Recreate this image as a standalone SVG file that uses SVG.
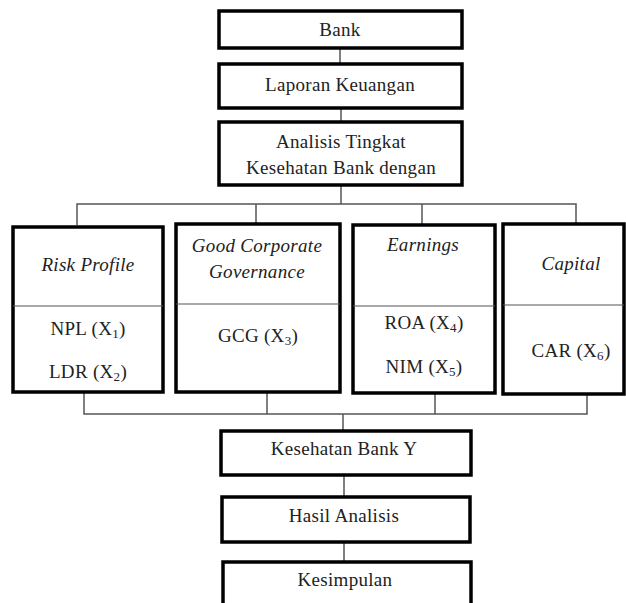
<svg xmlns="http://www.w3.org/2000/svg" width="626" height="603" viewBox="0 0 626 603">
<style>
.box{fill:#fff;stroke:#000;stroke-width:3.5}
.div{stroke:#555;stroke-width:1.2;fill:none}
.con{stroke:#555;stroke-width:1.5;fill:none}
text{font-family:'Liberation Serif','DejaVu Serif',serif;font-size:19px;fill:#222;text-anchor:middle;letter-spacing:0.3px}
.it{font-style:italic}
.sub{font-size:13px}
</style>
<rect width="626" height="603" fill="#fff"/>
<g id="connectors">
<line class="con" x1="340" y1="48" x2="340" y2="64"/>
<line class="con" x1="341" y1="108" x2="341" y2="122"/>
<polyline class="con" points="341,185 341,204"/>
<polyline class="con" points="77,225 77,204 576,204 576,224"/>
<line class="con" x1="256" y1="204" x2="256" y2="224"/>
<line class="con" x1="422" y1="204" x2="422" y2="225"/>
<polyline class="con" points="84,392 84,414 587,414 587,394"/>
<line class="con" x1="267" y1="392" x2="267" y2="414"/>
<line class="con" x1="435" y1="393" x2="435" y2="414"/>
<line class="con" x1="343" y1="414" x2="343" y2="431"/>
<line class="con" x1="344" y1="475" x2="344" y2="497"/>
<line class="con" x1="344" y1="542" x2="344" y2="562"/>
</g>
<g font-family="Liberation Serif, serif">
<g id="bank"><rect class="box" x="219" y="11" width="243" height="37"/><text x="340" y="36">Bank</text></g>
<g id="laporan"><rect class="box" x="219" y="64" width="243" height="44"/><text x="340" y="91">Laporan Keuangan</text></g>
<g id="analisis"><rect class="box" x="219" y="122" width="243" height="63"/><text x="341" y="148">Analisis Tingkat</text><text x="341" y="174">Kesehatan Bank dengan</text></g>
<g id="risk"><rect class="box" x="13" y="227" width="150" height="165"/><line class="div" x1="13" y1="306" x2="163" y2="306"/>
<text class="it" x="88" y="271">Risk Profile</text>
<text x="88" y="335">NPL (X<tspan class="sub" dy="3">1</tspan><tspan dy="-3">)</tspan></text>
<text x="88" y="378">LDR (X<tspan class="sub" dy="3">2</tspan><tspan dy="-3">)</tspan></text></g>
<g id="gcg"><rect class="box" x="176" y="224" width="164" height="168"/><line class="div" x1="176" y1="304" x2="340" y2="304"/>
<text class="it" x="257" y="252">Good Corporate</text>
<text class="it" x="257" y="278">Governance</text>
<text x="258" y="342">GCG (X<tspan class="sub" dy="3">3</tspan><tspan dy="-3">)</tspan></text></g>
<g id="earnings"><rect class="box" x="353" y="225" width="142" height="168"/><line class="div" x1="353" y1="306" x2="495" y2="306"/>
<text class="it" x="423" y="251">Earnings</text>
<text x="424" y="329">ROA (X<tspan class="sub" dy="3">4</tspan><tspan dy="-3">)</tspan></text>
<text x="424" y="373">NIM (X<tspan class="sub" dy="3">5</tspan><tspan dy="-3">)</tspan></text></g>
<g id="capital"><rect class="box" x="503" y="224" width="121" height="170"/><line class="div" x1="503" y1="305" x2="624" y2="305"/>
<text class="it" x="571" y="270">Capital</text>
<text x="571" y="357">CAR (X<tspan class="sub" dy="3">6</tspan><tspan dy="-3">)</tspan></text></g>
<g id="kesehatan"><rect class="box" x="221" y="431" width="250" height="44"/><text x="344" y="455">Kesehatan Bank Y</text></g>
<g id="hasil"><rect class="box" x="222" y="497" width="248" height="45"/><text x="344" y="522">Hasil Analisis</text></g>
<g id="kesimpulan"><rect class="box" x="223" y="562" width="248" height="50"/><text x="345" y="586">Kesimpulan</text></g>
</g>
</svg>
